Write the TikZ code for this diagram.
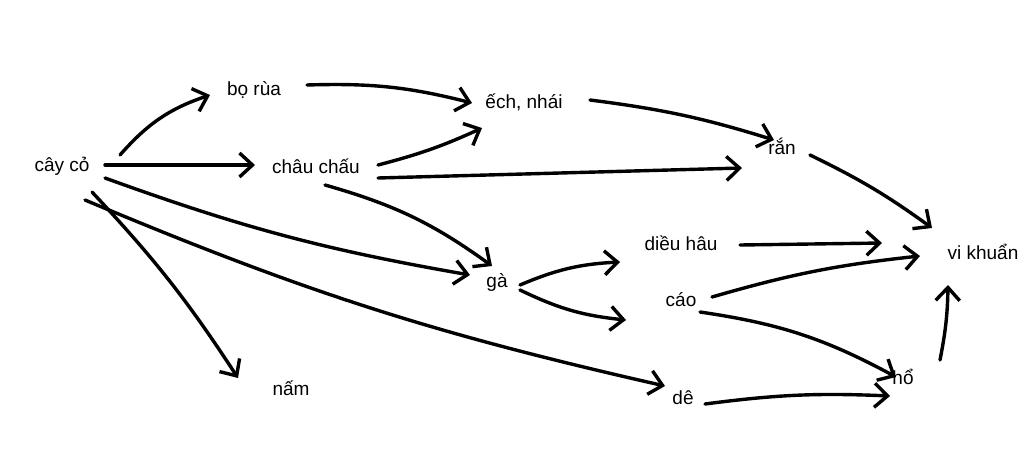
\documentclass[tikz,border=0pt]{standalone}
\usepackage{fontspec}
\setmainfont{Liberation Sans}
\usetikzlibrary{arrows.meta}
\begin{document}
\begin{tikzpicture}[x=1pt,y=-1pt,
  lbl/.style={font=\fontsize{19}{22}\selectfont, inner sep=1pt},
  arr/.style={line width=3.4pt, line cap=round, line join=round,
    -{Straight Barb[length=13pt,width=24pt,line width=3.4pt]}}]
\useasboundingbox (0,0) rectangle (1024,466);
\fill[white] (0,0) rectangle (1024,466);
\node[lbl] (co) at (62,166) {cây cỏ};
\node[lbl] (bo) at (254,90) {bọ rùa};
\node[lbl] (ech) at (524,102) {ếch, nhái};
\node[lbl] (chau) at (316,166) {châu chấu};
\node[lbl] (ran) at (782,146) {rắn};
\node[lbl] (dieu) at (681,243) {diều hâu};
\node[lbl] (vk) at (983,252) {vi khuẩn};
\node[lbl] (ga) at (497,282) {gà};
\node[lbl] (cao) at (681,300) {cáo};
\node[lbl] (ho) at (903,377) {hổ};
\node[lbl] (nam) at (291,388) {nấm};
\node[lbl] (de) at (683,398) {dê};
% end coordinates
\coordinate (a1) at (120,155); \coordinate (b1) at (210,95);
\coordinate (a2) at (105,165); \coordinate (b2) at (255,165);
\coordinate (a3) at (105,178); \coordinate (b3) at (470,275);
\coordinate (a4) at (92,192); \coordinate (b4) at (238,378);
\coordinate (a5) at (85,200); \coordinate (b5) at (665,386);
\coordinate (a6) at (307,85); \coordinate (b6) at (472,103);
\coordinate (a7) at (378,165); \coordinate (b7) at (482,128);
\coordinate (a8) at (378,178); \coordinate (b8) at (742,168);
\coordinate (a9) at (325,185); \coordinate (b9) at (492,266);
\coordinate (a10) at (590,100); \coordinate (b10) at (774,140);
\coordinate (a11) at (810,155); \coordinate (b11) at (932,228);
\coordinate (a12) at (520,285); \coordinate (b12) at (620,262);
\coordinate (a13) at (520,290); \coordinate (b13) at (626,320);
\coordinate (a14) at (740,245); \coordinate (b14) at (882,243);
\coordinate (a15) at (712,297); \coordinate (b15) at (920,256);
\coordinate (a16) at (700,312); \coordinate (b16) at (896,377);
\coordinate (a17) at (705,404); \coordinate (b17) at (890,396);
\coordinate (a18) at (940,360); \coordinate (b18) at (948,285);
\draw[arr] (a1) to[bend left=15] (b1);
\draw[arr] (a2) -- (b2);
\draw[arr] (a3) to[bend left=-5] (b3);
\draw[arr] (a4) to[bend left=5] (b4);
\draw[arr] (a5) to[bend left=-5] (b5);
\draw[arr] (a6) to[bend left=8] (b6);
\draw[arr] (a7) to[bend left=-5] (b7);
\draw[arr] (a8) -- (b8);
\draw[arr] (a9) to[bend left=10] (b9);
\draw[arr] (a10) to[bend left=5] (b10);
\draw[arr] (a11) to[bend left=5] (b11);
\draw[arr] (a12) to[bend left=10] (b12);
\draw[arr] (a13) to[bend left=-10] (b13);
\draw[arr] (a14) -- (b14);
\draw[arr] (a15) to[bend left=5] (b15);
\draw[arr] (a16) to[bend left=10] (b16);
\draw[arr] (a17) to[bend left=5] (b17);
\draw[arr] (a18) to[bend left=-5] (b18);
\end{tikzpicture}
\end{document}
